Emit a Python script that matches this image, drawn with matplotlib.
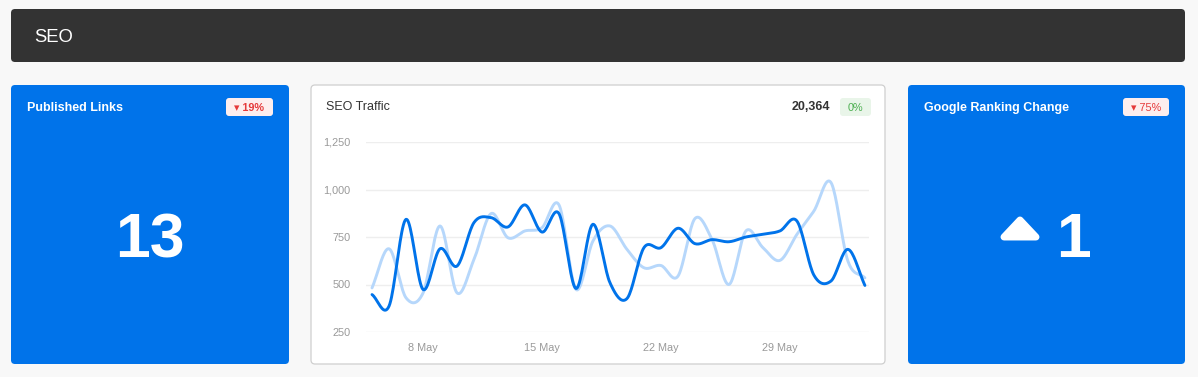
import matplotlib
matplotlib.use('Agg')
import matplotlib.pyplot as plt
from matplotlib.patches import FancyBboxPatch, Polygon
import numpy as np
import pandas as pd

# daily SEO traffic, 5 May - 3 June
days = pd.date_range('2023-05-05', periods=30)
traffic_current = [447, 386, 843, 474, 688, 597, 826, 852, 803, 919,
                   776, 873, 479, 817, 509, 426, 694, 694, 796, 715,
                   736, 725, 750, 764, 782, 834, 549, 518, 685, 495]
traffic_previous = [482, 688, 430, 455, 808, 456, 632, 873, 746, 782,
                    799, 919, 474, 729, 808, 685, 588, 600, 544, 847,
                    738, 500, 782, 694, 627, 764, 887, 1037, 623, 535]
tick_days = ['2023-05-08', '2023-05-15', '2023-05-22', '2023-05-29']
tick_labels = ['8 May', '15 May', '22 May', '29 May']
y_ticks = [250, 500, 750, 1000, 1250]

total_traffic = '20,364'
traffic_change = '0%'
published_links = '13'
links_change = '19%'
ranking_change = '1'
ranking_pct = '75%'

BLUE = '#0073ea'
LIGHT = '#b6d7fb'
W, H = 1198, 377


def smooth(y, n=20):
    # catmull-rom curve through the points, for drawing only
    y = np.asarray(y, float)
    m = np.gradient(y)
    xs, ys = [], []
    for i in range(len(y) - 1):
        t = np.linspace(0, 1, n, endpoint=False)
        h00 = 2*t**3 - 3*t**2 + 1
        h10 = t**3 - 2*t**2 + t
        h01 = -2*t**3 + 3*t**2
        h11 = t**3 - t**2
        ys.append(h00*y[i] + h10*m[i] + h01*y[i+1] + h11*m[i+1])
        xs.append(i + t)
    xs.append([len(y) - 1]); ys.append([y[-1]])
    return np.concatenate(xs), np.concatenate(ys)


fig = plt.figure(figsize=(W/100, H/100), dpi=100)
fig.patch.set_facecolor('#f8f8f8')
bg = fig.add_axes([0, 0, 1, 1])
bg.set_xlim(0, W)
bg.set_ylim(H, 0)
bg.axis('off')

fam = ['Liberation Sans', 'DejaVu Sans']


def box(x0, y0, x1, y1, fc, ec='none', r=4, lw=0):
    bg.add_patch(FancyBboxPatch((x0, y0), x1-x0, y1-y0,
                                boxstyle='round,pad=0,rounding_size=%d' % r,
                                fc=fc, ec=ec, lw=lw))


# header
box(11, 9, 1185, 62, '#333333')
bg.text(34, 42, 'SEO', color='white', fontsize=13.3, va='baseline', family=fam)

# published links card
box(11, 85, 289, 364, BLUE)
bg.text(27, 111, 'Published Links', color='white', fontsize=9, weight='bold',
        va='baseline', family=fam)
box(226, 98, 273, 116, '#fdeeee', r=3)
bg.text(249.5, 111, '\u25BE ' + links_change, color='#e5393a', fontsize=7.8,
        weight='bold', ha='center', va='baseline', family=fam)
bg.text(150, 257, published_links, color='white', fontsize=45, weight='bold',
        ha='center', va='baseline', family=fam)

# ranking card
box(908, 85, 1185, 364, BLUE)
bg.text(924, 111, 'Google Ranking Change', color='white', fontsize=9, weight='bold',
        va='baseline', family=fam)
box(1123, 98, 1169, 116, '#fdeeee', r=3)
bg.text(1146, 111, '\u25BE ' + ranking_pct, color='#e5393a', fontsize=7.8,
        ha='center', va='baseline', family=fam)
bg.add_patch(Polygon([(1004, 237), (1020, 220), (1036, 237)], closed=True,
                     fc='white', ec='white', lw=5, joinstyle='round'))
bg.text(1073, 257, ranking_change, color='white', fontsize=45, weight='bold',
        ha='center', va='baseline', family=fam)

# traffic card
box(311, 85, 885, 364, 'white', ec='#cfcfcf', lw=0.9)
bg.text(326, 110.5, 'SEO Traffic', color='#333333', fontsize=9, va='baseline', family=fam)
bg.text(830, 110.5, total_traffic, color='#333333', fontsize=9, weight='bold',
        ha='right', va='baseline', family=fam)
box(840, 98, 871, 116, '#e9f5e9', r=3)
bg.text(855.5, 111, traffic_change, color='#4caf50', fontsize=7.8,
        ha='center', va='baseline', family=fam)

ax = fig.add_axes([366/W, 1 - 332/H, (869-366)/W, (332-142)/H])
ax.set_facecolor('none')
xp, yp = smooth(traffic_previous)
xc, yc = smooth(traffic_current)
ax.plot(xp, yp, color=LIGHT, lw=2.1, solid_capstyle='round')
ax.plot(xc, yc, color=BLUE, lw=2.1, solid_capstyle='round')
ax.set_xlim(-0.354, 29.24)
ax.set_ylim(250, 1250)
ax.set_yticks(y_ticks)
ax.set_yticklabels(['{:,}'.format(v) for v in y_ticks])
ax.set_xticks([(pd.Timestamp(d) - days[0]).days for d in tick_days])
ax.set_xticklabels(tick_labels)
ax.grid(axis='y', color='#eeeeee', lw=1)
ax.set_axisbelow(True)
for s in ax.spines.values():
    s.set_visible(False)
ax.tick_params(length=0, labelsize=7.8, labelcolor='#999999')
ax.tick_params(axis='y', pad=11)
ax.tick_params(axis='x', pad=8)
for lab in ax.get_xticklabels() + ax.get_yticklabels():
    lab.set_family(fam)

fig.savefig('out.png', dpi=100, facecolor=fig.get_facecolor())
